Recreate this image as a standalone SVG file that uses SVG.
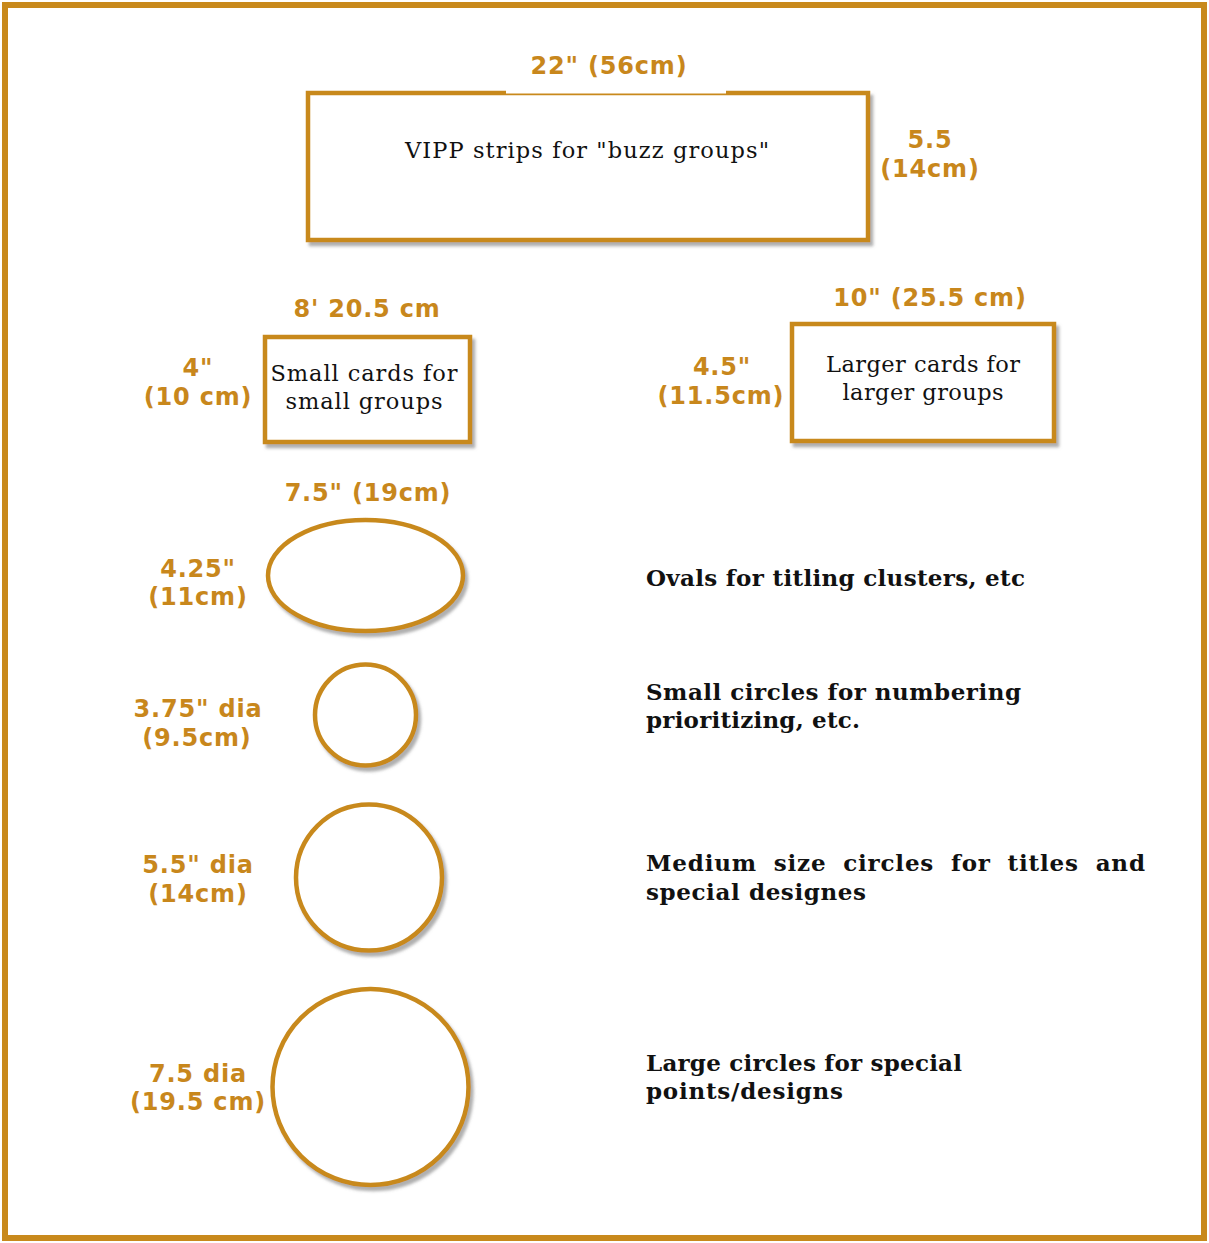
<svg xmlns="http://www.w3.org/2000/svg" width="1209" height="1243" viewBox="0 0 1209 1243">
<defs>
<filter id="sh" x="-10%" y="-10%" width="125%" height="130%">
<feDropShadow dx="3" dy="4" stdDeviation="1.5" flood-color="#6e6e6e" flood-opacity="0.55"/>
</filter>
<style>
.shape{fill:#fff;stroke:#C8891C;stroke-width:4.5}
.dim{font-family:"DejaVu Sans",sans-serif;font-weight:bold;font-size:24px;fill:#C8871C;letter-spacing:0.8px;text-anchor:middle}
.card{font-family:"DejaVu Serif",serif;font-size:22.5px;fill:#111;text-anchor:middle}
.desc{font-family:"DejaVu Serif",serif;font-weight:bold;font-size:23px;fill:#111}
</style>
</defs>
<rect width="1209" height="1243" fill="#fff"/>
<rect x="5" y="5" width="1199" height="1233" fill="none" stroke="#C8891C" stroke-width="6"/>

<g id="strip">
<rect class="shape" x="308" y="93" width="560" height="147" filter="url(#sh)"/>
<rect x="506" y="89" width="220" height="4.5" fill="#fff"/>
<text class="dim" x="609" y="74">22" (56cm)</text>
<text class="dim" x="930" y="148">5.5</text>
<text class="dim" x="930" y="177">(14cm)</text>
<text class="card" x="587" y="158" textLength="364" lengthAdjust="spacing">VIPP strips for "buzz groups"</text>
</g>

<g id="small-card">
<rect class="shape" x="265" y="337" width="205" height="105" stroke-width="6" filter="url(#sh)"/>
<text class="dim" x="367" y="317">8' 20.5 cm</text>
<text class="dim" x="198" y="376">4"</text>
<text class="dim" x="198" y="405">(10 cm)</text>
<text class="card" x="364" y="381" textLength="187" lengthAdjust="spacing">Small cards for</text>
<text class="card" x="364" y="409" textLength="157" lengthAdjust="spacing">small groups</text>
</g>

<g id="large-card">
<rect class="shape" x="792" y="324" width="262" height="117" filter="url(#sh)"/>
<text class="dim" x="930" y="306">10" (25.5 cm)</text>
<text class="dim" x="722" y="375">4.5"</text>
<text class="dim" x="721" y="404">(11.5cm)</text>
<text class="card" x="923" y="372" textLength="194" lengthAdjust="spacing">Larger cards for</text>
<text class="card" x="923" y="400" textLength="161" lengthAdjust="spacing">larger groups</text>
</g>

<g id="oval">
<ellipse class="shape" cx="365.5" cy="575.5" rx="97.5" ry="55.5" filter="url(#sh)"/>
<text class="dim" x="368" y="501">7.5" (19cm)</text>
<text class="dim" x="198" y="577">4.25"</text>
<text class="dim" x="198" y="605">(11cm)</text>
<text class="desc" x="646" y="586" textLength="379" lengthAdjust="spacing">Ovals for titling clusters, etc</text>
</g>

<g id="small-circle">
<circle class="shape" cx="365.5" cy="715" r="50.5" filter="url(#sh)"/>
<text class="dim" x="198" y="717">3.75" dia</text>
<text class="dim" x="197" y="746">(9.5cm)</text>
<text class="desc" x="646" y="700" textLength="375" lengthAdjust="spacing">Small circles for numbering</text>
<text class="desc" x="646" y="728" textLength="214" lengthAdjust="spacing">prioritizing, etc.</text>
</g>

<g id="medium-circle">
<circle class="shape" cx="369" cy="877.5" r="73" filter="url(#sh)"/>
<text class="dim" x="198" y="873">5.5" dia</text>
<text class="dim" x="198" y="902">(14cm)</text>
<text class="desc" x="646" y="871" word-spacing="8" textLength="499" lengthAdjust="spacing">Medium size circles for titles and</text>
<text class="desc" x="646" y="900" textLength="220" lengthAdjust="spacing">special designes</text>
</g>

<g id="large-circle">
<circle class="shape" cx="370.5" cy="1087" r="98" filter="url(#sh)"/>
<text class="dim" x="198" y="1082">7.5 dia</text>
<text class="dim" x="198" y="1110">(19.5 cm)</text>
<text class="desc" x="646" y="1071" textLength="316" lengthAdjust="spacing">Large circles for special</text>
<text class="desc" x="646" y="1099" textLength="197" lengthAdjust="spacing">points/designs</text>
</g>

<g id="connectors"/>
</svg>
